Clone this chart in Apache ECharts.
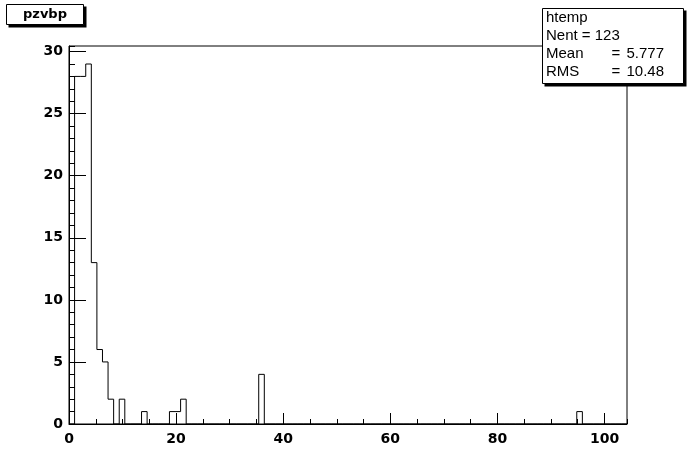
<!DOCTYPE html>
<html><head><meta charset="utf-8">
<script src="https://cdn.jsdelivr.net/npm/echarts@6/dist/echarts.min.js"></script>
<style>html,body{margin:0;padding:0;background:#fff}#c{width:696px;height:472px}</style>
</head><body><div id="c"></div>
<script>
// Histogram "pzvbp" (htemp): 100 bins from xMin to xMax
const xMin = 0;
const xMax = 104.2;
const binCounts = [
  0, 28, 28, 29, 13, 6, 5, 2, 0, 2,
  0, 0, 0, 1, 0, 0, 0, 0, 1, 1,
  2, 0, 0, 0, 0, 0, 0, 0, 0, 0,
  0, 0, 0, 0, 4, 0, 0, 0, 0, 0,
  0, 0, 0, 0, 0, 0, 0, 0, 0, 0,
  0, 0, 0, 0, 0, 0, 0, 0, 0, 0,
  0, 0, 0, 0, 0, 0, 0, 0, 0, 0,
  0, 0, 0, 0, 0, 0, 0, 0, 0, 0,
  0, 0, 0, 0, 0, 0, 0, 0, 0, 0,
  0, 1, 0, 0, 0, 0, 0, 0, 0, 0
];
const yMax = 30.45;
const xMajorStep = 20, xMinorStep = 5;
const yMajorStep = 5, yMinorStep = 1;
const titleText = 'pzvbp';
const statsName = 'htemp';
const statsLabels = ['Mean', 'RMS'];
const statsValues = ['5.777', '10.48'];
const statsEntries = '123';

const binWidth = (xMax - xMin) / binCounts.length;
const stepData = binCounts.map((c, i) => [xMin + i * binWidth, c]);
stepData.push([xMax, binCounts[binCounts.length - 1]]);

const gridRect = {left: 69, top: 46, width: 558, height: 378};
const labelFont = {color: '#000', fontFamily: 'DejaVu Sans', fontWeight: 'bold', fontSize: 14};
const statFont = '15px "Liberation Sans"';

const chart = echarts.init(document.getElementById('c'), null, {renderer: 'canvas'});
chart.setOption({
  animation: false,
  backgroundColor: '#fff',
  grid: [
    Object.assign({show: true, borderColor: '#000', borderWidth: 1, backgroundColor: 'transparent'}, gridRect),
    Object.assign({show: false}, gridRect)
  ],
  xAxis: [
    {gridIndex: 0, type: 'value', min: xMin, max: xMax, interval: xMajorStep,
     axisLine: {show: true, lineStyle: {color: '#000', width: 1}},
     axisTick: {show: true, inside: true, length: 11, lineStyle: {color: '#000'}},
     axisLabel: Object.assign({margin: 8, showMaxLabel: false}, labelFont),
     splitLine: {show: false}},
    {gridIndex: 1, type: 'value', min: xMin, max: xMax, interval: xMinorStep,
     axisLine: {show: false},
     axisTick: {show: true, inside: true, length: 5, lineStyle: {color: '#000'}},
     axisLabel: {show: false}, splitLine: {show: false}}
  ],
  yAxis: [
    {gridIndex: 0, type: 'value', min: 0, max: yMax, interval: yMajorStep,
     axisLine: {show: true, lineStyle: {color: '#000', width: 1}},
     axisTick: {show: true, inside: true, length: 17, lineStyle: {color: '#000'}},
     axisLabel: Object.assign({margin: 6, showMaxLabel: false}, labelFont),
     splitLine: {show: false}},
    {gridIndex: 1, type: 'value', min: 0, max: yMax, interval: yMinorStep,
     axisLine: {show: false},
     axisTick: {show: true, inside: true, length: 6, lineStyle: {color: '#000'}},
     axisLabel: {show: false}, splitLine: {show: false}}
  ],
  series: [{
    type: 'line', xAxisIndex: 0, yAxisIndex: 0, data: stepData, step: 'end',
    showSymbol: false, symbol: 'none', lineStyle: {color: '#000', width: 1}, z: 5
  }],
  graphic: [
    {type: 'rect', z: 100, shape: {x: 8.5, y: 6.5, width: 78, height: 21}, style: {fill: '#000'}},
    {type: 'rect', z: 101, shape: {x: 6.5, y: 4.5, width: 77, height: 20}, style: {fill: '#fff', stroke: '#000', lineWidth: 1}},
    {type: 'text', z: 102, x: 45, y: 15, style: {text: titleText, fill: '#000', font: 'bold 13px "DejaVu Sans"', textAlign: 'center', textVerticalAlign: 'middle'}},
    {type: 'rect', z: 100, shape: {x: 544.5, y: 10.5, width: 142, height: 76}, style: {fill: '#000'}},
    {type: 'rect', z: 101, shape: {x: 542.5, y: 8.5, width: 141, height: 75}, style: {fill: '#fff', stroke: '#000', lineWidth: 1}},
    {type: 'text', z: 102, x: 546, y: 18, style: {text: statsName, fill: '#000', font: statFont, textVerticalAlign: 'middle'}},
    {type: 'text', z: 102, x: 546, y: 36, style: {text: 'Nent = ' + statsEntries, fill: '#000', font: statFont, textVerticalAlign: 'middle'}},
    {type: 'text', z: 102, x: 546, y: 54, style: {text: statsLabels[0], fill: '#000', font: statFont, textVerticalAlign: 'middle'}},
    {type: 'text', z: 102, x: 616, y: 54, style: {text: '=', fill: '#000', font: statFont, textAlign: 'center', textVerticalAlign: 'middle'}},
    {type: 'text', z: 102, x: 664, y: 54, style: {text: statsValues[0], fill: '#000', font: statFont, textAlign: 'right', textVerticalAlign: 'middle'}},
    {type: 'text', z: 102, x: 546, y: 72, style: {text: statsLabels[1], fill: '#000', font: statFont, textVerticalAlign: 'middle'}},
    {type: 'text', z: 102, x: 616, y: 72, style: {text: '=', fill: '#000', font: statFont, textAlign: 'center', textVerticalAlign: 'middle'}},
    {type: 'text', z: 102, x: 664, y: 72, style: {text: statsValues[1], fill: '#000', font: statFont, textAlign: 'right', textVerticalAlign: 'middle'}}
  ]
});
</script></body></html>
